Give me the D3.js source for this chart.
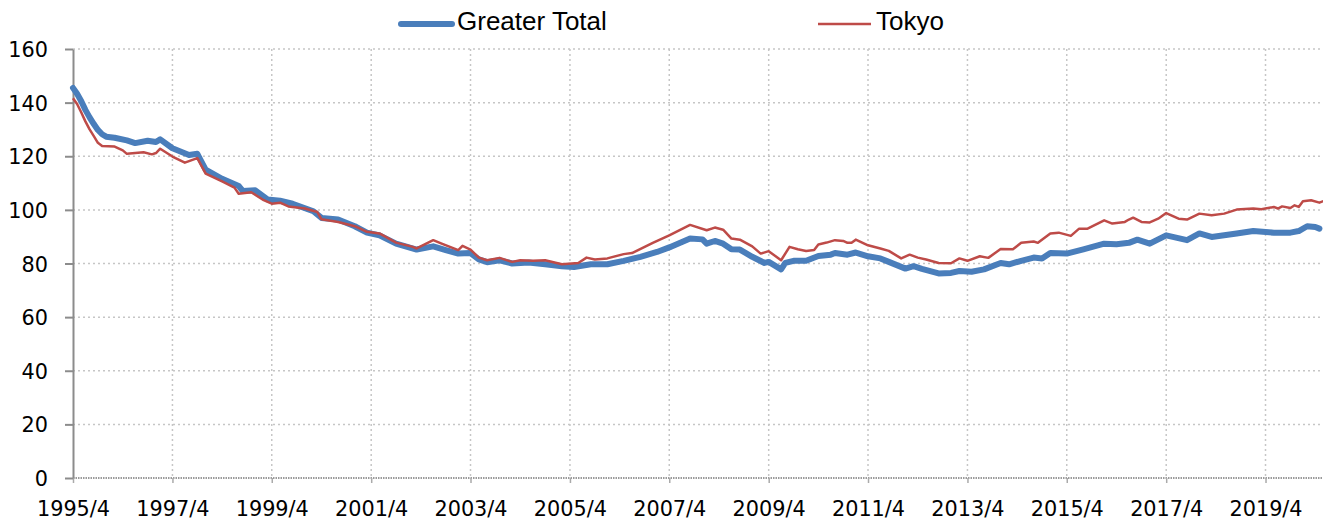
<!DOCTYPE html>
<html>
<head>
<meta charset="utf-8">
<script src="https://cdn.jsdelivr.net/npm/d3@7"></script>
<style>
  body { margin: 0; background: #fff; }
  .tick text { font-family: "DejaVu Sans", Verdana, sans-serif; font-size: 20.8px; fill: #000; }
  .legend text { font-family: "Liberation Sans", Arial, sans-serif; font-size: 26px; fill: #000; }
</style>
</head>
<body>
<div id="chart"></div>
<script>
// monthly readings, "year/month"
var greaterDates = ["1995/4","1995/5","1995/6","1995/7","1995/8","1995/9","1995/10","1995/11","1995/12","1996/2","1996/5","1996/7","1996/10",
  "1996/12","1997/1","1997/4","1997/8","1997/10","1997/12","1998/4","1998/8","1998/9","1998/12",
  "1999/3","1999/6","1999/9","2000/2","2000/4","2000/8","2000/12","2001/3","2001/6","2001/10",
  "2002/3","2002/7","2002/10","2003/1","2003/4","2003/6","2003/8","2003/11","2004/2","2004/6",
  "2004/10","2005/2","2005/5","2005/9","2006/1","2006/5","2006/9","2007/1","2007/4","2007/9",
  "2007/12","2008/1","2008/3","2008/5","2008/7","2008/9","2008/12","2009/3","2009/4","2009/7",
  "2009/8","2009/10","2010/1","2010/4","2010/7","2010/8","2010/11","2011/1","2011/4","2011/7",
  "2011/9","2012/1","2012/3","2012/5","2012/9","2012/12","2013/2","2013/5","2013/8","2013/12",
  "2014/2","2014/5","2014/8","2014/10","2014/12","2015/4","2015/8","2016/1","2016/4","2016/7",
  "2016/9","2016/12","2017/4","2017/9","2017/12","2018/3","2018/6","2018/9","2019/1","2019/6",
  "2019/10","2019/12","2020/2","2020/4","2020/5"];
var greaterValues = [145.5,143.3,140.5,137.3,134.5,132,129.8,128.2,127.3,126.9,125.9,124.9,125.8,
  125.3,126.3,123,120.5,120.9,115,111.6,108.9,107,107.3,
  103.9,103.4,102.3,99.5,97,96.4,93.9,91.5,90.5,87.4,
  85.2,86.4,85,83.7,83.9,81.5,80.5,81.2,80,80.4,
  79.7,79,78.7,79.7,79.7,81,82.5,84.3,86,89.3,
  89,87.4,88.4,87.4,85.3,85.2,82.5,80.2,80.6,77.8,
  80.2,81,81,82.8,83.3,83.9,83.3,84.1,82.7,81.9,
  80.6,78.1,79,78,76.3,76.5,77.2,76.9,77.8,80.2,
  79.7,81,82.2,81.9,83.9,83.7,85.3,87.4,87.2,87.7,
  88.9,87.4,90.5,88.7,91.2,89.9,90.5,91.2,92.1,91.5,
  91.5,92.1,93.9,93.6,93];

var tokyoDates = ["1995/4","1995/5","1995/6","1995/7","1995/8","1995/9","1995/10","1995/11","1996/2","1996/4","1996/5","1996/9","1996/11",
  "1996/12","1997/1","1997/4","1997/7","1997/10","1997/12","1998/4","1998/7","1998/8","1998/11",
  "1999/2","1999/4","1999/6","1999/8","1999/12","2000/3","2000/4","2000/8","2000/12","2001/3",
  "2001/6","2001/10","2002/2","2002/3","2002/7","2002/9","2003/1","2003/2","2003/4","2003/6",
  "2003/8","2003/11","2004/2","2004/4","2004/7","2004/10","2005/2","2005/6","2005/8","2005/10",
  "2006/1","2006/5","2006/7","2006/12","2007/4","2007/9","2008/1","2008/3","2008/5","2008/7",
  "2008/9","2008/12","2009/2","2009/4","2009/7","2009/9","2009/11","2010/1","2010/3","2010/4",
  "2010/6","2010/8","2010/10","2010/11","2010/12","2011/1","2011/4","2011/7","2011/9","2011/12",
  "2012/2","2012/4","2012/6","2012/9","2012/12","2013/2","2013/4","2013/7","2013/9","2013/12",
  "2014/3","2014/5","2014/8","2014/9","2014/12","2015/2","2015/5","2015/7","2015/9","2016/1",
  "2016/3","2016/6","2016/7","2016/8","2016/10","2016/12","2017/2","2017/4","2017/7","2017/9",
  "2017/12","2018/3","2018/6","2018/9","2019/1","2019/3","2019/6","2019/7","2019/8","2019/10",
  "2019/11","2019/12","2020/1","2020/3","2020/5","2020/6"];
var tokyoValues = [141.6,139.5,136.3,133,130,127.5,125,123.8,123.6,122.2,120.9,121.5,120.7,
  121.2,122.8,119.9,117.6,119.3,113.5,110.6,108.3,106,106.6,
  103.6,102.3,102.7,101.3,100.5,99.2,96.5,95.5,93.9,91.8,
  91.2,87.8,86.2,85.6,88.7,87.4,85,86.6,85.2,82.2,
  81.2,82.1,80.6,81.2,81,81.2,79.7,80.2,82.2,81.5,
  81.9,83.5,83.9,87.7,90.5,94.4,92.4,93.4,92.6,89.3,
  88.9,86.4,83.7,84.6,81.2,86.2,85.3,84.7,85,87.1,
  87.8,88.7,88.4,87.7,87.7,88.9,86.8,85.6,84.7,81.9,
  83.3,82.2,81.5,80.2,80.1,81.9,81,82.7,82.1,85.4,
  85.3,87.7,88.2,87.7,91.2,91.5,90.3,93,93,96.1,
  94.9,95.5,96.4,97.1,95.5,95.3,96.7,98.8,96.7,96.4,
  98.6,98,98.6,100.1,100.5,100.2,101.1,100.5,101.3,100.7,
  101.7,101.1,103.2,103.6,102.7,103.3];

var xTickLabels = ["1995/4","1997/4","1999/4","2001/4","2003/4","2005/4","2007/4","2009/4",
  "2011/4","2013/4","2015/4","2017/4","2019/4"];
var yTickValues = [0,20,40,60,80,100,120,140,160];
var seriesNames = ["Greater Total","Tokyo"];

var W = 1323, H = 523;
var margin = {top: 49, right: 0, bottom: 45, left: 73};
var width = 1250.6, height = H - margin.top - margin.bottom;

var parse = d3.timeParse("%Y/%m");
var fmt = d3.timeFormat("%Y/%-m");

var greater = greaterDates.map(function(d, i){ return {Date: parse(d), Value: greaterValues[i]}; });
var tokyo = tokyoDates.map(function(d, i){ return {Date: parse(d), Value: tokyoValues[i]}; });

var svg = d3.select("#chart")
  .append("svg")
    .attr("width", W)
    .attr("height", H)
  .append("g")
    .attr("transform", "translate(" + margin.left + "," + margin.top + ")");

var x = d3.scaleTime()
  .domain([parse("1995/4"), parse("2020/6")])
  .range([0, width]);
var y = d3.scaleLinear()
  .domain([0, 160])
  .range([height, 0]);

// grid
svg.append("g").selectAll("line.h")
  .data(yTickValues.filter(function(v){ return v > 0; }))
  .enter().append("line")
    .attr("x1", 0).attr("x2", W)
    .attr("y1", function(d){ return y(d); }).attr("y2", function(d){ return y(d); })
    .attr("stroke", "#c6c6c6").attr("stroke-width", 1.5).attr("stroke-dasharray", "2,3");
svg.append("g").selectAll("line.v")
  .data(xTickLabels.slice(1))
  .enter().append("line")
    .attr("x1", function(d){ return x(parse(d)); }).attr("x2", function(d){ return x(parse(d)); })
    .attr("y1", 0).attr("y2", height)
    .attr("stroke", "#c6c6c6").attr("stroke-width", 1.5).attr("stroke-dasharray", "2,3");

// x axis (on the 0 line)
var xAxis = svg.append("g")
  .attr("transform", "translate(0," + height + ")")
  .call(d3.axisBottom(x)
    .tickValues(xTickLabels.map(parse))
    .tickFormat(fmt)
    .tickSize(5)
    .tickSizeOuter(0)
    .tickPadding(18));
xAxis.select(".domain").attr("stroke", "#9a9a9a").attr("stroke-width", 2)
  .attr("stroke-dasharray", "1.5,1").attr("d", "M0,0H" + (W - margin.left));
xAxis.selectAll(".tick line").attr("stroke", "#aaaaaa").attr("stroke-width", 1.5);

// y axis
var yAxis = svg.append("g")
  .call(d3.axisLeft(y)
    .tickValues(yTickValues)
    .tickSize(8)
    .tickSizeOuter(0)
    .tickPadding(17));
yAxis.select(".domain").attr("stroke", "#8c8c8c").attr("stroke-width", 2);
yAxis.selectAll(".tick line").attr("stroke", "#8c8c8c").attr("stroke-width", 2);
yAxis.selectAll(".tick text").attr("dy", "0.36em");

var line = d3.line()
  .x(function(d){ return x(d.Date); })
  .y(function(d){ return y(d.Value); });

svg.append("path")
  .datum(greater)
  .attr("fill", "none")
  .attr("stroke", "#4a7ebb")
  .attr("stroke-width", 6)
  .attr("stroke-linejoin", "round")
  .attr("stroke-linecap", "round")
  .attr("d", line);
svg.append("path")
  .datum(tokyo)
  .attr("fill", "none")
  .attr("stroke", "#be4b48")
  .attr("stroke-width", 2.5)
  .attr("stroke-linejoin", "round")
  .attr("d", line);

// legend
var legend = d3.select("svg").append("g").attr("class", "legend");
legend.append("line")
  .attr("x1", 401).attr("x2", 452).attr("y1", 24).attr("y2", 24)
  .attr("stroke", "#4a7ebb").attr("stroke-width", 6).attr("stroke-linecap", "round");
legend.append("text").attr("x", 457).attr("y", 30).text(seriesNames[0]);
legend.append("line")
  .attr("x1", 818).attr("x2", 871).attr("y1", 24).attr("y2", 24)
  .attr("stroke", "#be4b48").attr("stroke-width", 2.5);
legend.append("text").attr("x", 876).attr("y", 30).text(seriesNames[1]);
</script>
</body>
</html>
